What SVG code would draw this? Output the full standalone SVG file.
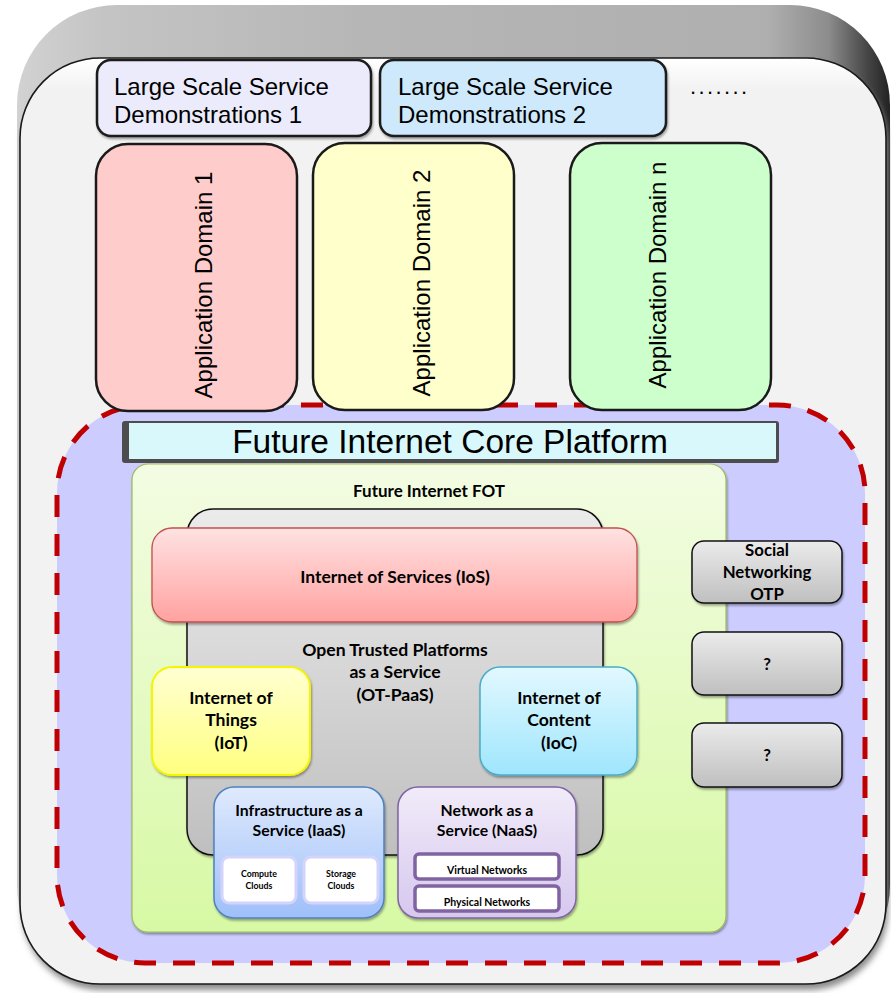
<svg xmlns="http://www.w3.org/2000/svg" width="891" height="993" viewBox="0 0 891 993">
  <defs>
    <linearGradient id="bevel" x1="0" y1="0" x2="1" y2="0">
      <stop offset="0" stop-color="#d2d2d2"/>
      <stop offset="0.1" stop-color="#c4c4c4"/>
      <stop offset="0.4" stop-color="#b6b6b6"/>
      <stop offset="0.86" stop-color="#afafaf"/>
      <stop offset="0.93" stop-color="#8c8c8c"/>
      <stop offset="0.975" stop-color="#444"/>
      <stop offset="1" stop-color="#222"/>
    </linearGradient>
    <linearGradient id="face" gradientUnits="userSpaceOnUse" x1="0" y1="58" x2="0" y2="90">
      <stop offset="0" stop-color="#ffffff"/>
      <stop offset="1" stop-color="#f2f2f2"/>
    </linearGradient>
    <linearGradient id="fot" x1="0" y1="0" x2="0" y2="1">
      <stop offset="0" stop-color="#f3fce3"/>
      <stop offset="1" stop-color="#d7f9a4"/>
    </linearGradient>
    <linearGradient id="gray" x1="0" y1="0" x2="0" y2="1">
      <stop offset="0" stop-color="#ebebeb"/>
      <stop offset="1" stop-color="#bfbfbf"/>
    </linearGradient>
    <linearGradient id="red" x1="0" y1="0" x2="0" y2="1">
      <stop offset="0" stop-color="#ffe2e2"/>
      <stop offset="1" stop-color="#ffa2a0"/>
    </linearGradient>
    <linearGradient id="yellow" x1="0" y1="0" x2="0" y2="1">
      <stop offset="0" stop-color="#ffffd2"/>
      <stop offset="1" stop-color="#ffff80"/>
    </linearGradient>
    <linearGradient id="cyan" x1="0" y1="0" x2="0" y2="1">
      <stop offset="0" stop-color="#e2f8ff"/>
      <stop offset="1" stop-color="#9fe6fd"/>
    </linearGradient>
    <linearGradient id="blue" x1="0" y1="0" x2="0" y2="1">
      <stop offset="0" stop-color="#dfeafd"/>
      <stop offset="1" stop-color="#9ebff9"/>
    </linearGradient>
    <linearGradient id="violet" x1="0" y1="0" x2="0" y2="1">
      <stop offset="0" stop-color="#f1ebf9"/>
      <stop offset="1" stop-color="#d6c8ee"/>
    </linearGradient>
    <filter id="shadow" x="-10%" y="-10%" width="120%" height="130%">
      <feDropShadow dx="1" dy="2" stdDeviation="1" flood-color="#000" flood-opacity="0.35"/>
    </filter>
    <filter id="soft" x="-5%" y="-5%" width="110%" height="110%">
      <feGaussianBlur stdDeviation="3"/>
    </filter>
  </defs>
  <style>
    .arial { font-family: "Liberation Sans", Arial, sans-serif; fill: #000; }
    .cal { font-family: Lato, "Open Sans", sans-serif; font-weight: bold; fill: #000; text-anchor: middle; }
    .outline { stroke: #1a1a1a; stroke-width: 2.5; }
    .pane { stroke: #111; stroke-width: 1.5; fill: url(#gray); }
  </style>

  <!-- bevelled outer frame -->
  <g id="frame">
    <rect x="17" y="5" width="873" height="980" rx="100" fill="url(#bevel)"/>
    <rect x="22" y="64" width="866" height="926" rx="80" fill="#8a8a8a" filter="url(#soft)"/>
    <rect x="20" y="58" width="866" height="926" rx="80" fill="url(#face)" stroke="#1a1a1a" stroke-width="1.6"/>
  </g>

  <!-- core platform region (dashed) -->
  <g id="core-region">
    <rect x="57" y="405" width="808" height="558" rx="88" fill="#ccccff" stroke="#c00000" stroke-width="5" stroke-dasharray="22 17"/>
  </g>

  <!-- service demonstrations -->
  <g id="demo1">
    <rect x="97" y="60" width="274" height="76" rx="14" fill="#ebebfb" class="outline" filter="url(#shadow)"/>
    <text class="arial" x="114" y="95" font-size="24">Large Scale Service</text>
    <text class="arial" x="114" y="123" font-size="24">Demonstrations 1</text>
  </g>
  <g id="demo2">
    <rect x="380" y="60" width="286" height="76" rx="14" fill="#cde9fb" class="outline" filter="url(#shadow)"/>
    <text class="arial" x="398" y="95" font-size="24">Large Scale Service</text>
    <text class="arial" x="398" y="123" font-size="24">Demonstrations 2</text>
  </g>
  <g id="demo-more">
    <text class="arial" x="690" y="94" font-size="22" letter-spacing="2.4">.......</text>
  </g>

  <!-- application domains -->
  <g id="domain1">
    <rect x="96" y="144" width="201" height="267" rx="32" fill="#ffcccc" class="outline"/>
    <text class="arial" font-size="24" text-anchor="middle" transform="translate(212 285) rotate(-90)">Application Domain 1</text>
  </g>
  <g id="domain2">
    <rect x="313" y="143" width="201" height="267" rx="32" fill="#ffffcc" class="outline"/>
    <text class="arial" font-size="24" text-anchor="middle" transform="translate(430 283) rotate(-90)">Application Domain 2</text>
  </g>
  <g id="domainN">
    <rect x="570" y="143" width="201" height="267" rx="32" fill="#ccffcc" class="outline"/>
    <text class="arial" font-size="24" text-anchor="middle" transform="translate(666 275) rotate(-90)">Application Domain n</text>
  </g>

  <!-- platform title bar -->
  <g id="core-title">
    <rect x="122" y="421" width="657" height="42" rx="3" fill="#4d4d4d"/>
    <rect x="129" y="423" width="647" height="36" fill="#d8f8fc"/>
    <text class="arial" x="450" y="453" font-size="33.5" text-anchor="middle">Future Internet Core Platform</text>
  </g>

  <!-- FOT -->
  <g id="fot">
    <rect x="132" y="464" width="594" height="468" rx="16" fill="url(#fot)" stroke="#9bbb59" stroke-width="1.2" filter="url(#shadow)"/>
    <text class="cal" x="429" y="497" font-size="17">Future Internet FOT</text>
  </g>

  <g id="ot-paas">
    <rect x="187" y="509" width="416" height="346" rx="26" class="pane" filter="url(#shadow)"/>
    <text class="cal" x="395" y="656" font-size="17.6">Open Trusted Platforms</text>
    <text class="cal" x="395" y="678" font-size="17.6">as a Service</text>
    <text class="cal" x="395" y="701" font-size="17.6">(OT-PaaS)</text>
  </g>

  <g id="ios">
    <rect x="152" y="528" width="485" height="94" rx="20" fill="url(#red)" stroke="#c0504d" stroke-width="1.3" filter="url(#shadow)"/>
    <text class="cal" x="395" y="583" font-size="17.5">Internet of Services (IoS)</text>
  </g>

  <g id="iot">
    <rect x="152" y="667" width="158" height="108" rx="20" fill="url(#yellow)" stroke="#f5f500" stroke-width="2" filter="url(#shadow)"/>
    <text class="cal" x="231" y="704" font-size="17.6">Internet of</text>
    <text class="cal" x="231" y="726" font-size="17.6">Things</text>
    <text class="cal" x="231" y="749" font-size="17.6">(IoT)</text>
  </g>

  <g id="ioc">
    <rect x="480" y="667" width="157" height="108" rx="20" fill="url(#cyan)" stroke="#4bacc6" stroke-width="1.5" filter="url(#shadow)"/>
    <text class="cal" x="559" y="704" font-size="17.6">Internet of</text>
    <text class="cal" x="559" y="726" font-size="17.6">Content</text>
    <text class="cal" x="559" y="749" font-size="17.6">(IoC)</text>
  </g>

  <g id="iaas">
    <rect x="214" y="787" width="170" height="131" rx="20" fill="url(#blue)" stroke="#4f81bd" stroke-width="1.5" filter="url(#shadow)"/>
    <text class="cal" x="299" y="816" font-size="15.8">Infrastructure as a</text>
    <text class="cal" x="299" y="836" font-size="15.8">Service (IaaS)</text>
    <g id="compute">
      <rect x="222" y="857" width="74" height="46" rx="7" fill="#fff" stroke="#d3d3fb" stroke-width="3"/>
      <text class="cal" x="259" y="877" font-size="8.8">Compute</text>
      <text class="cal" x="259" y="889" font-size="8.8">Clouds</text>
    </g>
    <g id="storage">
      <rect x="304" y="857" width="74" height="46" rx="7" fill="#fff" stroke="#d3d3fb" stroke-width="3"/>
      <text class="cal" x="341" y="877" font-size="8.8">Storage</text>
      <text class="cal" x="341" y="889" font-size="8.8">Clouds</text>
    </g>
  </g>

  <g id="naas">
    <rect x="398" y="787" width="178" height="131" rx="20" fill="url(#violet)" stroke="#8064a2" stroke-width="1.5" filter="url(#shadow)"/>
    <text class="cal" x="487" y="816" font-size="15.8">Network as a</text>
    <text class="cal" x="487" y="836" font-size="15.8">Service (NaaS)</text>
    <g id="virtual">
      <rect x="415" y="854" width="144" height="25" rx="4" fill="#fff" stroke="#8064a2" stroke-width="3.5"/>
      <text class="cal" x="487" y="874" font-size="10.5">Virtual Networks</text>
    </g>
    <g id="physical">
      <rect x="415" y="886" width="144" height="25" rx="4" fill="#fff" stroke="#8064a2" stroke-width="3.5"/>
      <text class="cal" x="487" y="906" font-size="10.5">Physical Networks</text>
    </g>
  </g>

  <!-- other platforms -->
  <g id="social-otp">
    <rect x="692" y="541" width="150" height="62" rx="12" class="pane" filter="url(#shadow)"/>
    <text class="cal" x="767" y="556" font-size="16.8">Social</text>
    <text class="cal" x="767" y="578" font-size="16.8">Networking</text>
    <text class="cal" x="767" y="600" font-size="16.8">OTP</text>
  </g>
  <g id="otp-unknown1">
    <rect x="692" y="632" width="150" height="63" rx="12" class="pane" filter="url(#shadow)"/>
    <text class="cal" x="767" y="670" font-size="16.8">?</text>
  </g>
  <g id="otp-unknown2">
    <rect x="692" y="723" width="150" height="64" rx="12" class="pane" filter="url(#shadow)"/>
    <text class="cal" x="767" y="761" font-size="16.8">?</text>
  </g>

  <g id="connectors"/>
</svg>
